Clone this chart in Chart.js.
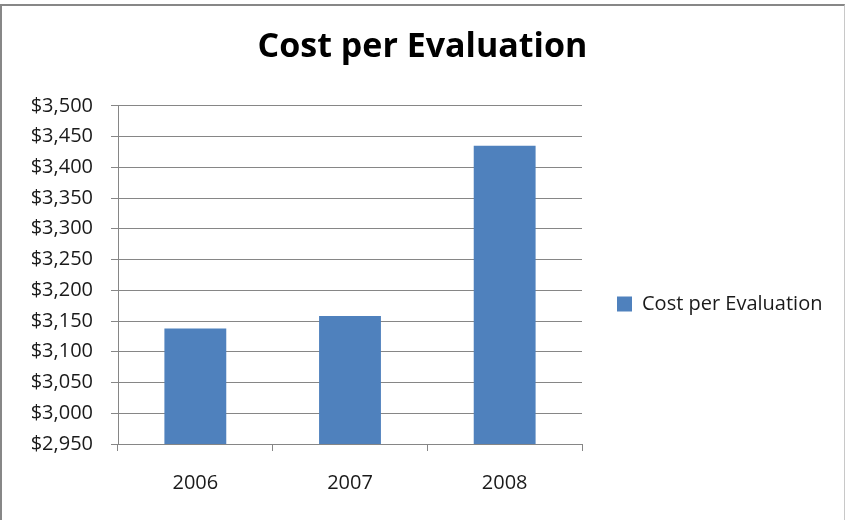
<!DOCTYPE html>
<html>
<head>
<meta charset="utf-8">
<script src="https://cdn.jsdelivr.net/npm/chart.js@4"></script>
<style>
  html, body { margin: 0; padding: 0; background: #fff; overflow: hidden; }
  #miGrafica { position: absolute; left: 0; top: 0; }
  #marco { position: absolute; left: 0; top: 4px; width: 842px; height: 516px;
           border-top: 2px solid #878787; border-left: 2px solid #878787; border-right: 1px solid #c8c8c8; }
</style>
</head>
<body>
<canvas id="miGrafica" width="845" height="520"></canvas>
<div id="marco"></div>
<script>
const anios = ['2006', '2007', '2008'];
const costo_por_evaluacion = [3138, 3158, 3435];
const nombre_serie = 'Cost per Evaluation';
const eje_min = 2950;
const eje_max = 3500;
const eje_paso = 50;

const canva_grafica = document.getElementById('miGrafica').getContext('2d');
const fuente = "'Open Sans', sans-serif";
const ancho_leyenda = 263;

// la leyenda ocupa un ancho fijo a la derecha, como en Excel
const ajustarLeyenda = {
    id: 'ajustarLeyenda',
    afterInit: (chart) => {
        const leyenda = chart.legend;
        const fitOriginal = leyenda.fit.bind(leyenda);
        leyenda.fit = function () {
            fitOriginal();
            this.width = ancho_leyenda;
        };
    }
};

const dibujarGrafica = () => {
    const grafica_char = new Chart(canva_grafica, {
        type: 'bar',
        data: {
            labels: anios,
            datasets: [{
                label: nombre_serie,
                data: costo_por_evaluacion,
                backgroundColor: '#4f81bd',
                borderWidth: 0,
                categoryPercentage: 1,
                barPercentage: 0.4
            }]
        },
        options: {
            responsive: false,
            animation: false,
            devicePixelRatio: 1,
            layout: { padding: 0 },
            plugins: {
                title: {
                    display: true,
                    text: 'Cost per Evaluation',
                    color: '#000',
                    font: { family: fuente, size: 34, weight: 'bold' },
                    padding: { top: 27, bottom: 38 }
                },
                legend: {
                    position: 'right',
                    title: { display: true, text: ' ', font: { size: 10 }, padding: { top: 38, bottom: 38 } },
                    labels: {
                        color: '#1a1a1a',
                        font: { family: fuente, size: 20 },
                        boxWidth: 15,
                        boxHeight: 15,
                        padding: 35
                    }
                },
                tooltip: { enabled: false }
            },
            scales: {
                x: {
                    grid: { display: true, drawOnChartArea: false, offset: true, color: '#868686', tickLength: 7 },
                    border: { color: '#868686' },
                    ticks: { color: '#1a1a1a', font: { family: fuente, size: 20 }, padding: 20 },
                    afterFit: (eje) => { eje.height = 76; }
                },
                y: {
                    min: eje_min,
                    max: eje_max,
                    grid: { color: '#868686', tickLength: 7 },
                    border: { color: '#868686' },
                    ticks: {
                        stepSize: eje_paso,
                        color: '#1a1a1a',
                        font: { family: fuente, size: 20 },
                        padding: 18,
                        callback: (valor) => '$' + valor.toLocaleString('en-US')
                    },
                    afterFit: (eje) => { eje.width = 118; }
                }
            }
        },
        plugins: [ajustarLeyenda]
    });
};

document.addEventListener("DOMContentLoaded", dibujarGrafica);
</script>
</body>
</html>
